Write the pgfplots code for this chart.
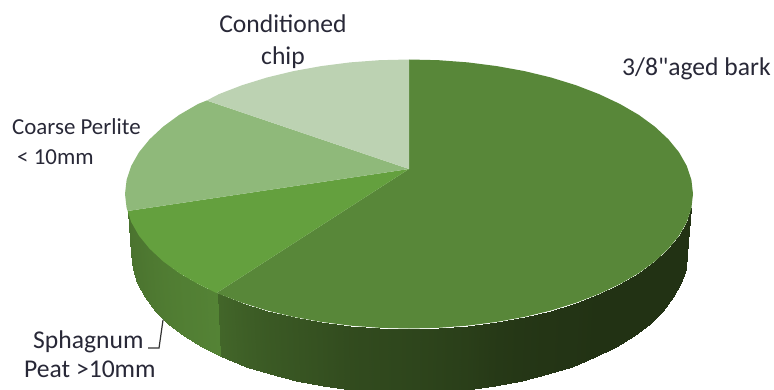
\documentclass[border=0pt]{standalone}
\usepackage{fontspec}
\setmainfont{Carlito}
\newfontfamily\plaincarlito{Carlito}
\usepackage{pgfplots}
\pgfplotsset{compat=1.18}

% Side wall of the largest slice: rim point, base point, shade
\pgfplotstableread{
x y c
691.4 208.1 0
687 254 0
686.8 222 0
685.5 268.5 0
679.1 235.6 0
680.9 282.9 0
668.4 248.7 0
673.4 297 0
654.9 261.3 0
663 310.5 0
638.8 273.1 0
649.7 323.5 0
620 284 0
633.9 335.7 0
599 293.9 0
615.6 347 0
599 293.9 0
595 357.3 0
575.9 302.8 2
572.4 366.5 2
551 310.5 3
548 374.4 3
524.5 316.9 5
522.1 381 5
496.8 321.9 8
494.9 386.2 8
468 325.6 14
466.8 390 14
438.7 327.8 18
438.1 392.2 18
409 328.5 22
409 393 22
379.3 327.8 25
379.9 392.2 25
350 325.6 28
351.2 390 28
321.2 321.9 34
323.1 386.2 34
293.5 316.9 39
295.9 381 39
267 310.5 44
270 374.4 44
242.1 302.8 50
245.6 366.5 50
216.5 293 58
220 356 58
}\mainside

% Side wall of the Sphagnum slice
\pgfplotstableread{
x y c
216.5 293 90
220 356 90
198 284 87
202.4 347 87
179.2 273.1 85
184.1 335.7 85
163.1 261.3 82
168.3 323.5 82
149.6 248.7 79
155 310.5 79
138.9 235.6 76
144.6 297 76
131.2 222 74
137.1 282.9 74
127.7 211 72
132.5 268.5 72
127.7 211 72
131 254 72
}\peatside

\definecolor{barkgreen}{RGB}{88,135,57}
\definecolor{peatgreen}{RGB}{100,160,62}
\definecolor{perlitegreen}{RGB}{143,185,122}
\definecolor{chipgreen}{RGB}{188,210,178}
\definecolor{labeltext}{RGB}{40,40,55}

\tikzset{
  biglabel/.style={inner sep=0pt, text=labeltext, font=\plaincarlito\fontsize{25.6}{25.6}\selectfont},
  smalllabel/.style={inner sep=0pt, text=labeltext, font=\plaincarlito\fontsize{22.9}{22.9}\selectfont},
}

\begin{document}
\begin{tikzpicture}
\path[use as bounding box] (0,0) rectangle (774pt,390pt);
\begin{axis}[
  at={(0,0)}, anchor=south west,
  scale only axis,
  width=774pt, height=390pt,
  xmin=0, xmax=774, ymin=0, ymax=390,
  y dir=reverse,
  axis lines=none,
  point meta min=0, point meta max=100,
  colormap={sideshade}{rgb255(0)=(34,50,20) rgb255(100)=(90,140,57)},
]
% side walls
\addplot[surf, shader=interp, mesh/ordering=x varies, mesh/cols=2, point meta=\thisrow{c}]
  table[x=x, y=y] {\mainside};
\addplot[surf, shader=interp, mesh/ordering=x varies, mesh/cols=2, point meta=\thisrow{c}]
  table[x=x, y=y] {\peatside};

% 3/8" aged bark
\addplot[fill=barkgreen, draw=none] coordinates {
 (409,169) (409,59.5) (438.7,60.2) (468,62.4) (496.8,66.1) (524.5,71.1) (551,77.5)
 (575.9,85.2) (599,94.1) (620,104) (638.8,114.9) (654.9,126.7) (668.4,139.3)
 (679.1,152.4) (686.8,166) (691.4,179.9) (693,194) (691.4,208.1) (686.8,222)
 (679.1,235.6) (668.4,248.7) (654.9,261.3) (638.8,273.1) (620,284) (599,293.9)
 (575.9,302.8) (551,310.5) (524.5,316.9) (496.8,321.9) (468,325.6) (438.7,327.8)
 (409,328.5) (379.3,327.8) (350,325.6) (321.2,321.9) (293.5,316.9) (267,310.5)
 (242.1,302.8) (216.5,293)
} -- cycle;

% Sphagnum peat
\addplot[fill=peatgreen, draw=none] coordinates {
 (409,169) (216.5,293) (198,284) (179.2,273.1) (163.1,261.3) (149.6,248.7)
 (138.9,235.6) (131.2,222) (127.7,211)
} -- cycle;

% Coarse perlite
\addplot[fill=perlitegreen, draw=none] coordinates {
 (409,169) (127.7,211) (126.6,208.1) (125,194) (126.6,179.9) (131.2,166)
 (138.9,152.4) (149.6,139.3) (163.1,126.7) (179.2,114.9) (198,104) (206.7,100.5)
} -- cycle;

% Conditioned chip
\addplot[fill=chipgreen, draw=none] coordinates {
 (409,169) (206.7,100.5) (219,94.1) (242.1,85.2) (267,77.5) (293.5,71.1)
 (321.2,66.1) (350,62.4) (379.3,60.2) (409,59.5)
} -- cycle;

% leader line of the Sphagnum label
\addplot[draw=black!80, line width=1.2pt] coordinates {(163,320) (159,348) (148,348)};

\node[biglabel, anchor=base] at (axis cs:283,33) {Conditioned};
\node[biglabel, anchor=base] at (axis cs:283,65) {chip};
\node[biglabel, anchor=base west] at (axis cs:622,76) {3/8"aged bark};
\node[smalllabel, anchor=base west] at (axis cs:12,135) {Coarse Perlite};
\node[smalllabel, anchor=base west] at (axis cs:17,165) {< 10mm};
\node[biglabel, anchor=base west] at (axis cs:33,348) {Sphagnum};
\node[biglabel, anchor=base west] at (axis cs:24,377) {Peat >10mm};
\end{axis}
\end{tikzpicture}
\end{document}
